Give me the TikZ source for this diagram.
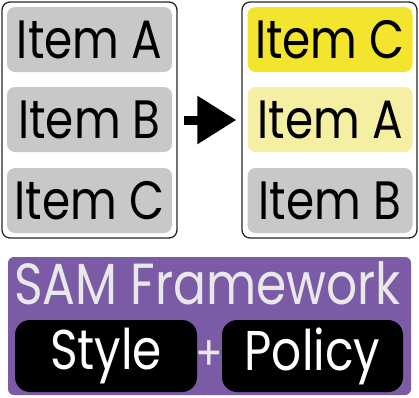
\documentclass[tikz,border=0pt]{standalone}
\usepackage{fontspec}
\setmainfont[FakeStretch=0.84]{Poppins}
\usetikzlibrary{positioning,calc}
\usetikzlibrary{arrows.meta}
\definecolor{ItemGray}{RGB}{200,200,200}
\definecolor{ItemYellow}{RGB}{243,229,46}
\definecolor{PaleYellow}{RGB}{245,239,163}
\definecolor{SamPurple}{RGB}{123,90,166}
\definecolor{TitleGray}{RGB}{232,232,232}
\tikzset{
	panel/.style={draw=black!85,line width=1.3pt,rounded corners=8pt,minimum width=175pt,minimum height=236pt},
	item/.style={fill=ItemGray,rounded corners=8pt,minimum width=165pt,minimum height=65pt,
		inner sep=0pt,font=\fontsize{54}{54}\selectfont},
	part/.style={fill=black,text=white,rounded corners=15pt,minimum width=182pt,minimum height=72pt,
		inner sep=0pt,font=\fontsize{56}{56}\selectfont},
}

\begin{document}
\begin{tikzpicture}[x=1pt,y=-1pt]
	\useasboundingbox (0,0) rectangle (419,397);
	% before and after
	\node[panel] (before) at (89.5,120) {};
	\node[panel] (after) at (329.5,120) {};
	\node[item] (bA) at (89.5,39.5) {Item A};
	\node[item] (bB) at (89.5,119.5) {Item B};
	\node[item] (bC) at (89.5,200.5) {Item C};
	\node[item,fill=ItemYellow] (aC) at (330,39.5) {Item C};
	\node[item,fill=PaleYellow] (aA) at (330,119.5) {Item A};
	\node[item] (aB) at (330,200.5) {Item B};
	\draw[line width=9pt,-{Triangle[length=39pt,width=46pt]},shorten <=6pt,shorten >=5pt]
		(before.east) -- (after.west);
	% framework
	\node[fill=SamPurple,rounded corners=6pt,minimum width=403pt,minimum height=138pt] (sam) at (209.5,326) {};
	\node[text=TitleGray,font=\fontsize{58}{58}\selectfont] (title) at (207.5,283) {SAM Framework};
	\node[part] (style) at (106,356) {Style};
	\node[part,minimum width=181pt] (policy) at (312.5,356) {Policy};
	\node[text=TitleGray,font=\fontsize{48}{48}\selectfont,inner sep=0pt] (plus) at (209.5,356) {+};
\end{tikzpicture}
\end{document}
